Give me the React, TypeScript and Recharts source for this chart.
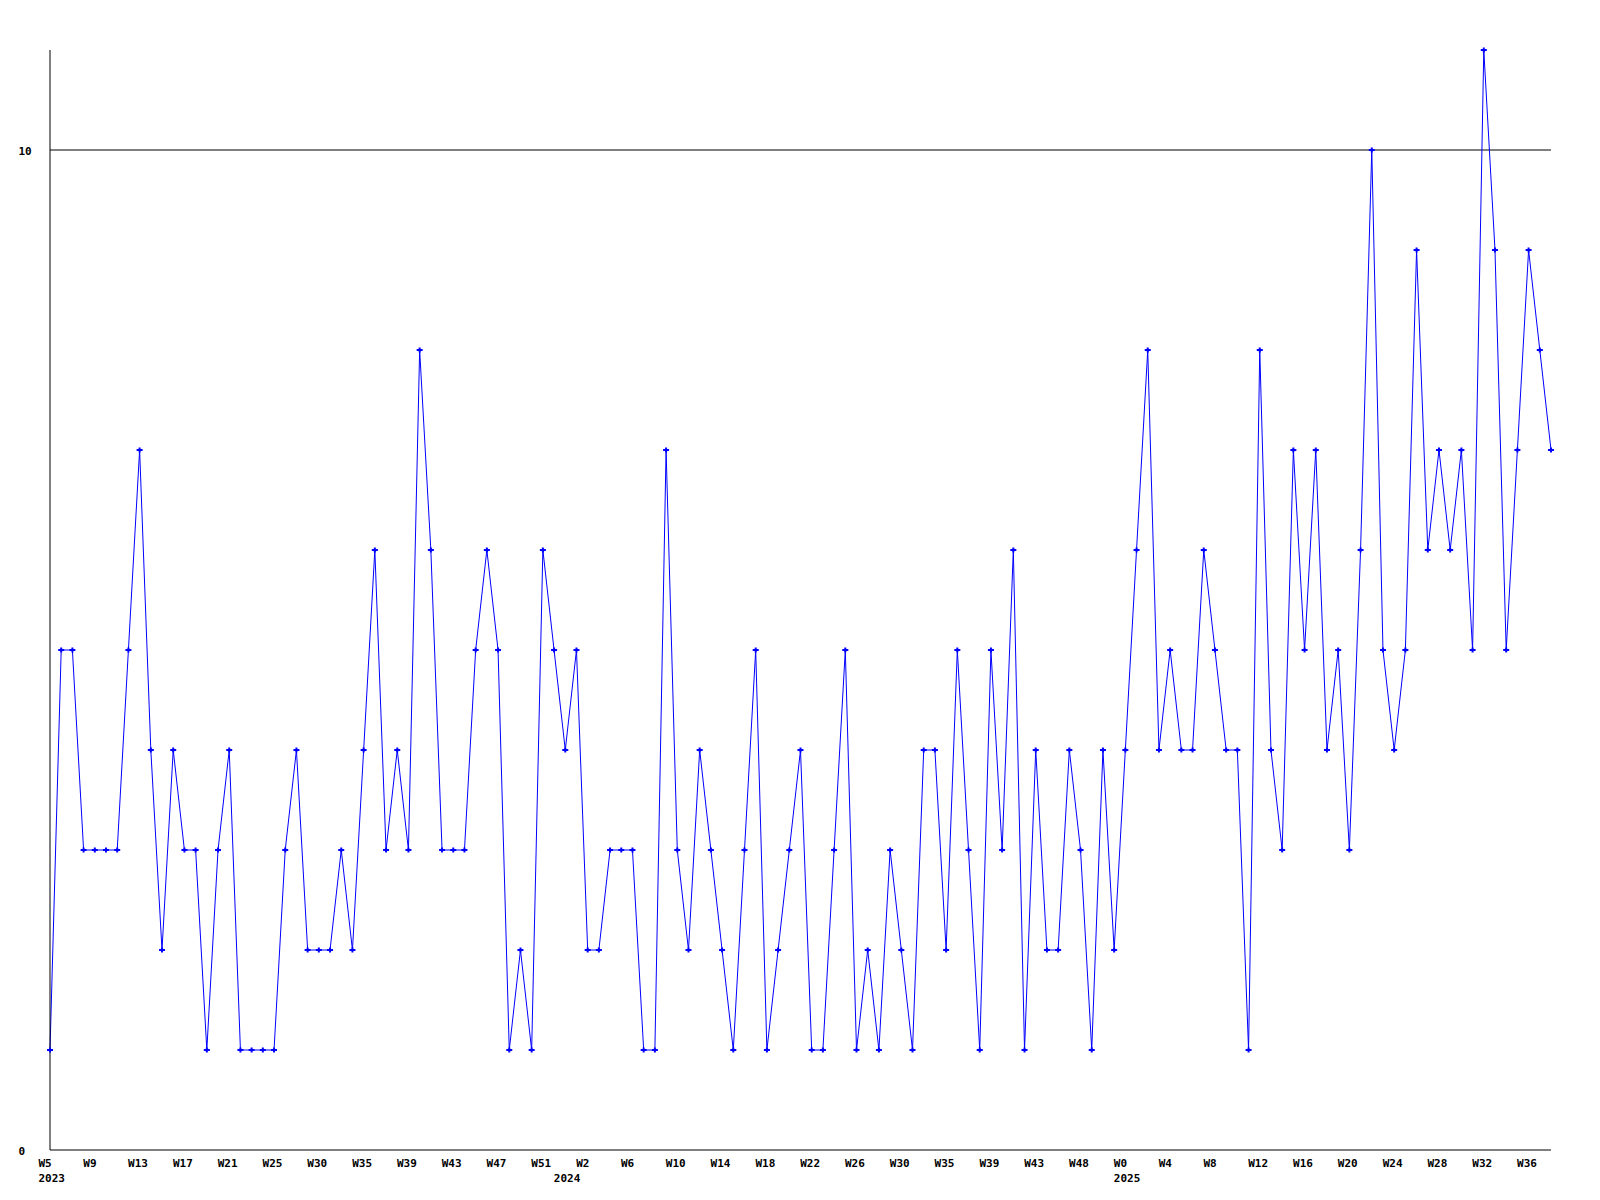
import { LineChart, Line, XAxis, YAxis, ReferenceLine } from 'recharts';

// weekly counts, 2023 W5 .. 2025 W38
const values = [
  1, 5, 5, 3, 3, 3, 3, 5, 7, 4, 2, 4, 3, 3, 1, 3, 4, 1, 1, 1, 1, 3, 4, 2, 2,
  2, 3, 2, 4, 6, 3, 4, 3, 8, 6, 3, 3, 3, 5, 6, 5, 1, 2, 1, 6, 5, 4, 5, 2,
  2, 3, 3, 3, 1, 1, 7, 3, 2, 4, 3, 2, 1, 3, 5, 1, 2, 3, 4, 1, 1, 3, 5, 1,
  2, 1, 3, 2, 1, 4, 4, 2, 5, 3, 1, 5, 3, 6, 1, 4, 2, 2, 4, 3, 1, 4, 2, 4,
  6, 8, 4, 5, 4, 4, 6, 5, 4, 4, 1, 8, 4, 3, 7, 5, 7, 4, 5, 3, 6,
  10, 5, 4, 5, 9, 6, 7, 6, 7, 5, 11, 9, 5, 7, 9, 8, 7,
];

const weekLabels = [
  'W5', 'W9', 'W13', 'W17', 'W21', 'W25', 'W30', 'W35', 'W39', 'W43', 'W47', 'W51',
  'W2', 'W6', 'W10', 'W14', 'W18', 'W22', 'W26', 'W30', 'W35', 'W39', 'W43', 'W48',
  'W0', 'W4', 'W8', 'W12', 'W16', 'W20', 'W24', 'W28', 'W32', 'W36',
];
// week index each label belongs to
const weekLabelAt = [
  0, 4, 8, 12, 16, 20, 24, 28, 32, 36, 40, 44,
  48, 52, 56, 60, 64, 68, 72, 76, 80, 84, 88, 92,
  96, 100, 104, 108, 112, 116, 120, 124, 128, 132,
];

const yearLabels = ['2023', '2024', '2025'];
const yearLabelAt = [0, 46, 96];

const yTicks = [0, 10];

const data = values.map((v, i) => ({ week: i, count: v }));

const FONT = '"DejaVu Sans Mono", "Liberation Mono", monospace';
const BLUE = '#0000ff';

function WeekTick({ x, y, payload }: any) {
  const label = weekLabels[weekLabelAt.indexOf(payload.value)];
  return (
    <text x={x - 11.5} y={y + 17} textAnchor="start" fontFamily={FONT} fontSize={11} fontWeight="bold" fill="#000">
      {label}
    </text>
  );
}

function YearTick({ x, y, payload }: any) {
  const label = yearLabels[yearLabelAt.indexOf(payload.value)];
  return (
    <text x={x - 11.5} y={y + 16} textAnchor="start" fontFamily={FONT} fontSize={11} fontWeight="bold" fill="#000">
      {label}
    </text>
  );
}

function CountTick({ x, y, payload }: any) {
  return (
    <text x={x - 31.5} y={y + 5} textAnchor="start" fontFamily={FONT} fontSize={11} fontWeight="bold" fill="#000">
      {payload.value}
    </text>
  );
}

function Marker({ cx, cy }: any) {
  if (cx == null || cy == null) return null;
  return (
    <path
      d={`M${cx - 3},${cy}H${cx + 3}M${cx},${cy - 2.5}V${cy + 2.5}`}
      stroke={BLUE}
      strokeWidth={2}
      fill="none"
    />
  );
}

export default function App() {
  return (
    <div style={{ position: 'absolute', left: 0, top: 0, width: 1600, height: 1200, background: '#fff' }}>
      <LineChart width={1600} height={1200} data={data} margin={{ top: 50, right: 49, bottom: 4, left: 0 }}>
        <XAxis
          dataKey="week"
          type="number"
          domain={[0, 134]}
          ticks={weekLabelAt}
          interval={0}
          tickSize={0}
          tickMargin={0}
          tickLine={false}
          axisLine={{ stroke: '#000', strokeWidth: 1 }}
          tick={<WeekTick />}
          height={16}
        />
        <XAxis
          xAxisId="year"
          dataKey="week"
          type="number"
          domain={[0, 134]}
          ticks={yearLabelAt}
          interval={0}
          tickSize={0}
          tickMargin={0}
          tickLine={false}
          axisLine={false}
          tick={<YearTick />}
          height={30}
        />
        <YAxis
          type="number"
          domain={[0, 11]}
          ticks={yTicks}
          interval={0}
          width={50}
          tickSize={0}
          tickMargin={0}
          tickLine={false}
          axisLine={{ stroke: '#000', strokeWidth: 1 }}
          tick={<CountTick />}
        />
        <ReferenceLine y={10} stroke="#000" strokeWidth={1} />
        <Line
          type="linear"
          dataKey="count"
          stroke={BLUE}
          strokeWidth={1}
          dot={<Marker />}
          activeDot={false}
          isAnimationActive={false}
        />
      </LineChart>
    </div>
  );
}
